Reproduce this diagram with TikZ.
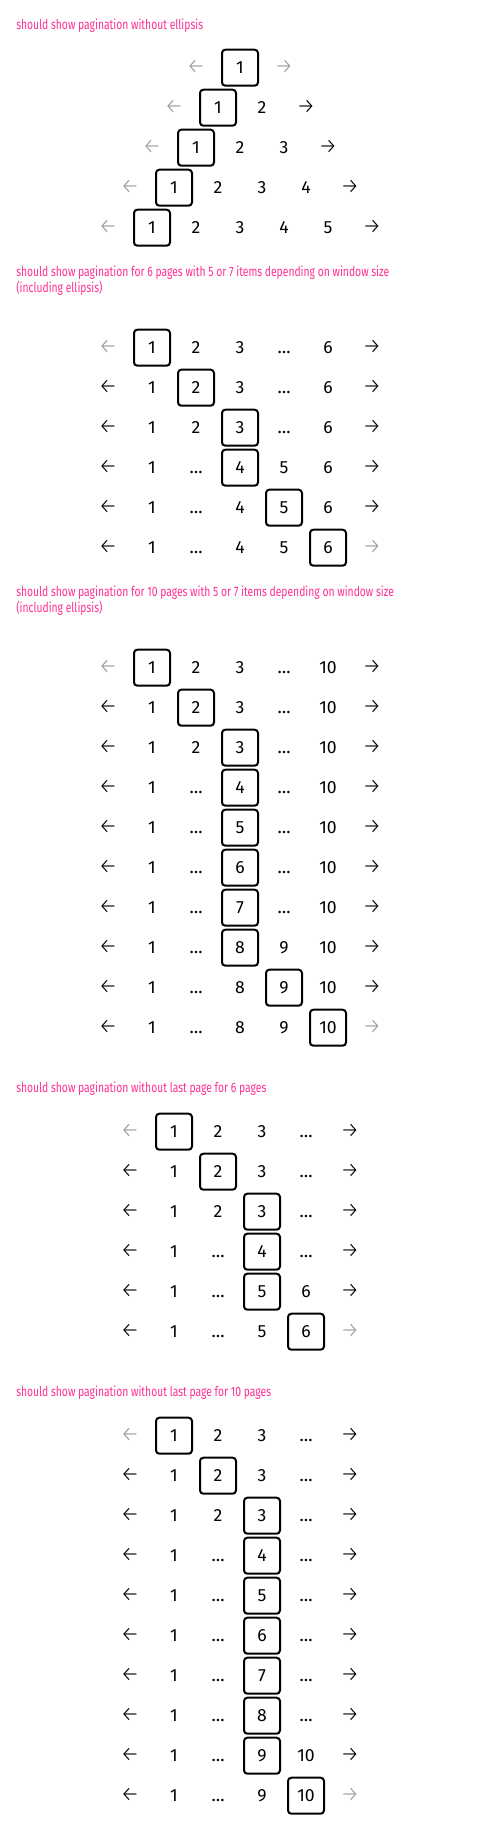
\documentclass[tikz,border=0pt]{standalone}
\usepackage{fontspec}
\setmainfont{Fira Sans}
\newfontfamily\titlefont[FakeStretch=0.76]{Fira Sans}
\newfontfamily\arrowfont{Fira Sans Light}

\definecolor{titlepink}{HTML}{FF2E93}
\definecolor{offgrey}{HTML}{9A9A9A}

\newcommand\skipped{…}
% one row of the pager: name, y, number of items, boxed item, labels, prev style, next style
\newcommand\pagerow[7]{%
  \pgfmathsetmacro\rowx{240-22*(#3+1)}
  \node[#6] (#1-prev) at (\rowx,#2) {←};
  \foreach \lbl [count=\i] in {#5}{
    \ifnum\i=#4
      \node[current] (#1-\i) at (\rowx+44*\i,#2) {\lbl};
    \else
      \node[page] (#1-\i) at (\rowx+44*\i,#2) {\lbl};
    \fi
  }
  \node[#7] (#1-next) at (\rowx+44*#3+44,#2) {→};
}

\tikzset{
  page/.style={inner sep=0pt, minimum size=27pt, text height=9.2pt, text depth=0pt,
    font=\fontsize{13.2pt}{16pt}\selectfont},
  current/.style={page, draw, line width=1.5pt, rounded corners=2.5pt},
  nav/.style={page, font=\arrowfont\fontsize{16pt}{16pt}\selectfont},
  navoff/.style={nav, text=offgrey},
  title/.style={anchor=base west, inner sep=0pt, text=titlepink, align=left,
    font=\titlefont\fontsize{10.2pt}{12pt}\selectfont},
}

\begin{document}
\begin{tikzpicture}[x=0.75pt, y=-0.75pt]
  \useasboundingbox (0,0) rectangle (480,1832);

  % without ellipsis
  \node[title] (ta) at (16,29.3) {should show pagination without ellipsis};
  \pagerow{a1}{67.7}{1}{1}{1}{navoff}{navoff}
  \pagerow{a2}{107.7}{2}{1}{1,2}{navoff}{nav}
  \pagerow{a3}{147.7}{3}{1}{1,2,3}{navoff}{nav}
  \pagerow{a4}{187.7}{4}{1}{1,2,3,4}{navoff}{nav}
  \pagerow{a5}{227.7}{5}{1}{1,2,3,4,5}{navoff}{nav}

  % 6 pages
  \node[title] (tb) at (16,292.6) {should show pagination for 6 pages with 5 or 7 items depending on window size\\(including ellipsis)};
  \pagerow{b1}{347.7}{5}{1}{1,2,3,\skipped,6}{navoff}{nav}
  \pagerow{b2}{387.7}{5}{2}{1,2,3,\skipped,6}{nav}{nav}
  \pagerow{b3}{427.7}{5}{3}{1,2,3,\skipped,6}{nav}{nav}
  \pagerow{b4}{467.7}{5}{3}{1,\skipped,4,5,6}{nav}{nav}
  \pagerow{b5}{507.7}{5}{4}{1,\skipped,4,5,6}{nav}{nav}
  \pagerow{b6}{547.7}{5}{5}{1,\skipped,4,5,6}{nav}{navoff}

  % 10 pages
  \node[title] (tc) at (16,612.6) {should show pagination for 10 pages with 5 or 7 items depending on window size\\(including ellipsis)};
  \pagerow{c1}{667.7}{5}{1}{1,2,3,\skipped,10}{navoff}{nav}
  \pagerow{c2}{707.7}{5}{2}{1,2,3,\skipped,10}{nav}{nav}
  \pagerow{c3}{747.7}{5}{3}{1,2,3,\skipped,10}{nav}{nav}
  \pagerow{c4}{787.7}{5}{3}{1,\skipped,4,\skipped,10}{nav}{nav}
  \pagerow{c5}{827.7}{5}{3}{1,\skipped,5,\skipped,10}{nav}{nav}
  \pagerow{c6}{867.7}{5}{3}{1,\skipped,6,\skipped,10}{nav}{nav}
  \pagerow{c7}{907.7}{5}{3}{1,\skipped,7,\skipped,10}{nav}{nav}
  \pagerow{c8}{947.7}{5}{3}{1,\skipped,8,9,10}{nav}{nav}
  \pagerow{c9}{987.7}{5}{4}{1,\skipped,8,9,10}{nav}{nav}
  \pagerow{c10}{1027.7}{5}{5}{1,\skipped,8,9,10}{nav}{navoff}

  % no last page, 6 pages
  \node[title] (td) at (16,1092.6) {should show pagination without last page for 6 pages};
  \pagerow{d1}{1131.7}{4}{1}{1,2,3,\skipped}{navoff}{nav}
  \pagerow{d2}{1171.7}{4}{2}{1,2,3,\skipped}{nav}{nav}
  \pagerow{d3}{1211.7}{4}{3}{1,2,3,\skipped}{nav}{nav}
  \pagerow{d4}{1251.7}{4}{3}{1,\skipped,4,\skipped}{nav}{nav}
  \pagerow{d5}{1291.7}{4}{3}{1,\skipped,5,6}{nav}{nav}
  \pagerow{d6}{1331.7}{4}{4}{1,\skipped,5,6}{nav}{navoff}

  % no last page, 10 pages
  \node[title] (te) at (16,1396.6) {should show pagination without last page for 10 pages};
  \pagerow{e1}{1435.7}{4}{1}{1,2,3,\skipped}{navoff}{nav}
  \pagerow{e2}{1475.7}{4}{2}{1,2,3,\skipped}{nav}{nav}
  \pagerow{e3}{1515.7}{4}{3}{1,2,3,\skipped}{nav}{nav}
  \pagerow{e4}{1555.7}{4}{3}{1,\skipped,4,\skipped}{nav}{nav}
  \pagerow{e5}{1595.7}{4}{3}{1,\skipped,5,\skipped}{nav}{nav}
  \pagerow{e6}{1635.7}{4}{3}{1,\skipped,6,\skipped}{nav}{nav}
  \pagerow{e7}{1675.7}{4}{3}{1,\skipped,7,\skipped}{nav}{nav}
  \pagerow{e8}{1715.7}{4}{3}{1,\skipped,8,\skipped}{nav}{nav}
  \pagerow{e9}{1755.7}{4}{3}{1,\skipped,9,10}{nav}{nav}
  \pagerow{e10}{1795.7}{4}{4}{1,\skipped,9,10}{nav}{navoff}
\end{tikzpicture}
\end{document}
